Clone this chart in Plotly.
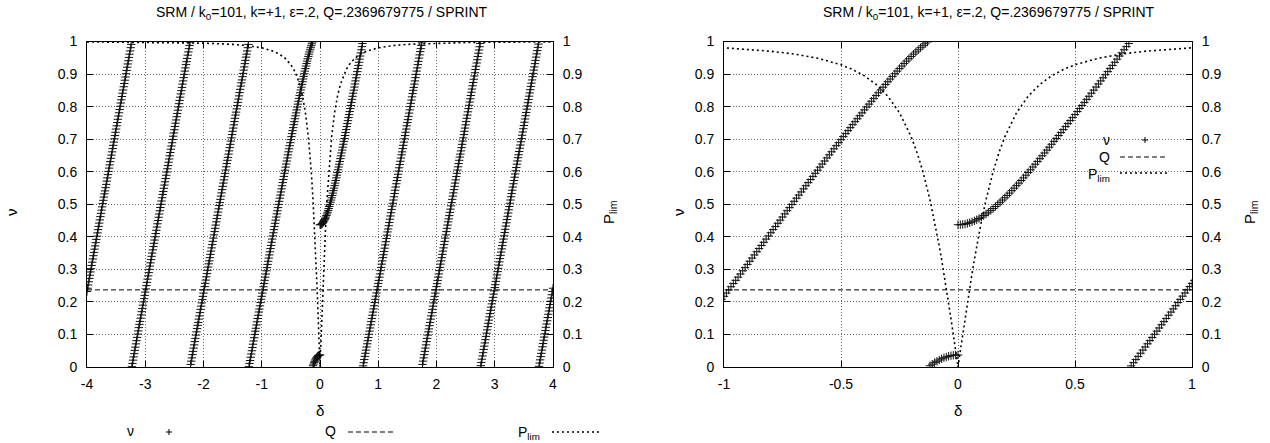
import plotly.graph_objects as go

# ---------------- data ----------------
Q_VALUE = 0.2369679775
TITLE = "SRM / k<sub>0</sub>=101, k=+1, ε=.2, Q=.2369679775 / SPRINT"

delta_wing_neg = [
    -4.0, -3.99, -3.98, -3.97, -3.96, -3.95, -3.94, -3.93, -3.92, -3.91,
    -3.9, -3.89, -3.88, -3.87, -3.86, -3.85, -3.84, -3.83, -3.82, -3.81,
    -3.8, -3.79, -3.78, -3.77, -3.76, -3.75, -3.74, -3.73, -3.72, -3.71,
    -3.7, -3.69, -3.68, -3.67, -3.66, -3.65, -3.64, -3.63, -3.62, -3.61,
    -3.6, -3.59, -3.58, -3.57, -3.56, -3.55, -3.54, -3.53, -3.52, -3.51,
    -3.5, -3.49, -3.48, -3.47, -3.46, -3.45, -3.44, -3.43, -3.42, -3.41,
    -3.4, -3.39, -3.38, -3.37, -3.36, -3.35, -3.34, -3.33, -3.32, -3.31,
    -3.3, -3.29, -3.28, -3.27, -3.26, -3.25, -3.24, -3.23, -3.22, -3.21,
    -3.2, -3.19, -3.18, -3.17, -3.16, -3.15, -3.14, -3.13, -3.12, -3.11,
    -3.1, -3.09, -3.08, -3.07, -3.06, -3.05, -3.04, -3.03, -3.02, -3.01,
    -3.0, -2.99, -2.98, -2.97, -2.96, -2.95, -2.94, -2.93, -2.92, -2.91,
    -2.9, -2.89, -2.88, -2.87, -2.86, -2.85, -2.84, -2.83, -2.82, -2.81,
    -2.8, -2.79, -2.78, -2.77, -2.76, -2.75, -2.74, -2.73, -2.72, -2.71,
    -2.7, -2.69, -2.68, -2.67, -2.66, -2.65, -2.64, -2.63, -2.62, -2.61,
    -2.6, -2.59, -2.58, -2.57, -2.56, -2.55, -2.54, -2.53, -2.52, -2.51,
    -2.5, -2.49, -2.48, -2.47, -2.46, -2.45, -2.44, -2.43, -2.42, -2.41,
    -2.4, -2.39, -2.38, -2.37, -2.36, -2.35, -2.34, -2.33, -2.32, -2.31,
    -2.3, -2.29, -2.28, -2.27, -2.26, -2.25, -2.24, -2.23, -2.22, -2.21,
    -2.2, -2.19, -2.18, -2.17, -2.16, -2.15, -2.14, -2.13, -2.12, -2.11,
    -2.1, -2.09, -2.08, -2.07, -2.06, -2.05, -2.04, -2.03, -2.02, -2.01,
    -2.0, -1.99, -1.98, -1.97, -1.96, -1.95, -1.94, -1.93, -1.92, -1.91,
    -1.9, -1.89, -1.88, -1.87, -1.86, -1.85, -1.84, -1.83, -1.82, -1.81,
    -1.8, -1.79, -1.78, -1.77, -1.76, -1.75, -1.74, -1.73, -1.72, -1.71,
    -1.7, -1.69, -1.68, -1.67, -1.66, -1.65, -1.64, -1.63, -1.62, -1.61,
    -1.6, -1.59, -1.58, -1.57, -1.56, -1.55, -1.54, -1.53, -1.52, -1.51,
    -1.5, -1.49, -1.48, -1.47, -1.46, -1.45, -1.44, -1.43, -1.42, -1.41,
    -1.4, -1.39, -1.38, -1.37, -1.36, -1.35, -1.34, -1.33, -1.32, -1.31,
    -1.3, -1.29, -1.28, -1.27, -1.26, -1.25, -1.24, -1.23, -1.22, -1.21,
    -1.2, -1.19, -1.18, -1.17, -1.16, -1.15, -1.14, -1.13, -1.12, -1.11,
    -1.1, -1.09, -1.08, -1.07, -1.06, -1.05, -1.04, -1.03, -1.02, -1.01,
]
nu_wing_neg = [
    .232, .242, .252, .262, .272, .282, .292, .302, .312, .322,
    .332, .342, .352, .362, .372, .382, .392, .402, .412, .422,
    .432, .442, .452, .462, .472, .482, .492, .502, .512, .522,
    .532, .541, .551, .561, .571, .581, .591, .601, .611, .621,
    .631, .641, .651, .661, .671, .681, .691, .701, .711, .721,
    .731, .741, .751, .761, .771, .781, .791, .801, .811, .821,
    .831, .841, .851, .861, .871, .881, .891, .901, .911, .921,
    .931, .941, .951, .961, .971, .981, .991, .001, .011, .021,
    .031, .041, .051, .061, .071, .081, .091, .101, .111, .121,
    .131, .140, .150, .160, .170, .180, .190, .200, .210, .220,
    .230, .240, .250, .260, .270, .280, .290, .300, .310, .320,
    .330, .340, .350, .360, .370, .380, .390, .400, .410, .420,
    .430, .440, .450, .460, .470, .480, .490, .500, .510, .520,
    .530, .539, .549, .559, .569, .579, .589, .599, .609, .619,
    .629, .639, .649, .659, .669, .679, .689, .699, .709, .719,
    .729, .739, .749, .759, .769, .779, .789, .799, .809, .819,
    .829, .839, .849, .859, .869, .879, .889, .899, .909, .919,
    .929, .938, .948, .958, .968, .978, .988, .998, .008, .018,
    .028, .038, .048, .058, .068, .078, .088, .098, .108, .118,
    .128, .137, .147, .157, .167, .177, .187, .197, .207, .217,
    .227, .237, .247, .257, .267, .277, .287, .297, .307, .317,
    .326, .336, .346, .356, .366, .376, .386, .396, .406, .416,
    .426, .436, .446, .456, .466, .476, .486, .496, .505, .515,
    .525, .535, .545, .555, .565, .575, .585, .595, .605, .615,
    .625, .635, .644, .654, .664, .674, .684, .694, .704, .714,
    .724, .734, .744, .754, .764, .774, .783, .793, .803, .813,
    .823, .833, .843, .853, .863, .873, .882, .892, .902, .912,
    .922, .932, .942, .952, .961, .971, .981, .991, .001, .011,
    .020, .030, .040, .050, .060, .070, .080, .090, .100, .110,
    .119, .129, .139, .149, .159, .169, .178, .188, .198, .208,
]

delta_center = [
    -1.0, -0.99, -0.98, -0.97, -0.96, -0.95, -0.94, -0.93, -0.92, -0.91,
    -0.9, -0.89, -0.88, -0.87, -0.86, -0.85, -0.84, -0.83, -0.82, -0.81,
    -0.8, -0.79, -0.78, -0.77, -0.76, -0.75, -0.74, -0.73, -0.72, -0.71,
    -0.7, -0.69, -0.68, -0.67, -0.66, -0.65, -0.64, -0.63, -0.62, -0.61,
    -0.6, -0.59, -0.58, -0.57, -0.56, -0.55, -0.54, -0.53, -0.52, -0.51,
    -0.5, -0.49, -0.48, -0.47, -0.46, -0.45, -0.44, -0.43, -0.42, -0.41,
    -0.4, -0.39, -0.38, -0.37, -0.36, -0.35, -0.34, -0.33, -0.32, -0.31,
    -0.3, -0.29, -0.28, -0.27, -0.26, -0.25, -0.24, -0.23, -0.22, -0.21,
    -0.2, -0.19, -0.18, -0.17, -0.16, -0.15, -0.14, -0.13, -0.12, -0.11,
    -0.1, -0.09, -0.08, -0.07, -0.06, -0.05, -0.04, -0.03, -0.02, -0.01,
    0.0, 0.0,
    0.01, 0.02, 0.03, 0.04, 0.05, 0.06, 0.07, 0.08, 0.09, 0.1,
    0.11, 0.12, 0.13, 0.14, 0.15, 0.16, 0.17, 0.18, 0.19, 0.2,
    0.21, 0.22, 0.23, 0.24, 0.25, 0.26, 0.27, 0.28, 0.29, 0.3,
    0.31, 0.32, 0.33, 0.34, 0.35, 0.36, 0.37, 0.38, 0.39, 0.4,
    0.41, 0.42, 0.43, 0.44, 0.45, 0.46, 0.47, 0.48, 0.49, 0.5,
    0.51, 0.52, 0.53, 0.54, 0.55, 0.56, 0.57, 0.58, 0.59, 0.6,
    0.61, 0.62, 0.63, 0.64, 0.65, 0.66, 0.67, 0.68, 0.69, 0.7,
    0.71, 0.72, 0.73, 0.74, 0.75, 0.76, 0.77, 0.78, 0.79, 0.8,
    0.81, 0.82, 0.83, 0.84, 0.85, 0.86, 0.87, 0.88, 0.89, 0.9,
    0.91, 0.92, 0.93, 0.94, 0.95, 0.96, 0.97, 0.98, 0.99, 1.0,
]
nu_center = [
    .2172, .2270, .2368, .2466, .2564, .2662, .2760, .2857, .2955, .3053,
    .3151, .3248, .3346, .3443, .3541, .3638, .3735, .3832, .3930, .4027,
    .4124, .4221, .4318, .4414, .4511, .4608, .4704, .4801, .4897, .4994,
    .5090, .5186, .5282, .5378, .5474, .5569, .5665, .5760, .5855, .5951,
    .6045, .6140, .6235, .6329, .6424, .6518, .6611, .6705, .6799, .6892,
    .6985, .7078, .7170, .7262, .7354, .7446, .7537, .7628, .7718, .7808,
    .7898, .7987, .8076, .8164, .8252, .8339, .8425, .8511, .8596, .8681,
    .8764, .8847, .8929, .9010, .9090, .9168, .9246, .9322, .9397, .9470,
    .9542, .9611, .9679, .9745, .9809, .9870, .9929, .9985, .0038, .0088,
    .0134, .0177, .0216, .0251, .0282, .0308, .0330, .0348, .0360, .0368,
    .0370, .4370,
    .4373, .4380, .4392, .4410, .4432, .4458, .4489, .4524, .4563, .4606,
    .4653, .4702, .4755, .4811, .4870, .4931, .4995, .5061, .5129, .5198,
    .5270, .5343, .5418, .5494, .5572, .5650, .5730, .5811, .5893, .5976,
    .6059, .6144, .6229, .6315, .6401, .6488, .6576, .6664, .6753, .6842,
    .6932, .7022, .7112, .7203, .7294, .7386, .7478, .7570, .7662, .7755,
    .7848, .7941, .8035, .8129, .8222, .8316, .8411, .8505, .8600, .8695,
    .8790, .8885, .8980, .9075, .9171, .9266, .9362, .9458, .9554, .9650,
    .9746, .9843, .9939, .0036, .0132, .0229, .0326, .0422, .0519, .0616,
    .0713, .0810, .0908, .1005, .1102, .1200, .1297, .1394, .1492, .1590,
    .1687, .1785, .1883, .1980, .2078, .2176, .2274, .2372, .2470, .2568,
]

delta_wing_pos = [
    1.01, 1.02, 1.03, 1.04, 1.05, 1.06, 1.07, 1.08, 1.09, 1.1,
    1.11, 1.12, 1.13, 1.14, 1.15, 1.16, 1.17, 1.18, 1.19, 1.2,
    1.21, 1.22, 1.23, 1.24, 1.25, 1.26, 1.27, 1.28, 1.29, 1.3,
    1.31, 1.32, 1.33, 1.34, 1.35, 1.36, 1.37, 1.38, 1.39, 1.4,
    1.41, 1.42, 1.43, 1.44, 1.45, 1.46, 1.47, 1.48, 1.49, 1.5,
    1.51, 1.52, 1.53, 1.54, 1.55, 1.56, 1.57, 1.58, 1.59, 1.6,
    1.61, 1.62, 1.63, 1.64, 1.65, 1.66, 1.67, 1.68, 1.69, 1.7,
    1.71, 1.72, 1.73, 1.74, 1.75, 1.76, 1.77, 1.78, 1.79, 1.8,
    1.81, 1.82, 1.83, 1.84, 1.85, 1.86, 1.87, 1.88, 1.89, 1.9,
    1.91, 1.92, 1.93, 1.94, 1.95, 1.96, 1.97, 1.98, 1.99, 2.0,
    2.01, 2.02, 2.03, 2.04, 2.05, 2.06, 2.07, 2.08, 2.09, 2.1,
    2.11, 2.12, 2.13, 2.14, 2.15, 2.16, 2.17, 2.18, 2.19, 2.2,
    2.21, 2.22, 2.23, 2.24, 2.25, 2.26, 2.27, 2.28, 2.29, 2.3,
    2.31, 2.32, 2.33, 2.34, 2.35, 2.36, 2.37, 2.38, 2.39, 2.4,
    2.41, 2.42, 2.43, 2.44, 2.45, 2.46, 2.47, 2.48, 2.49, 2.5,
    2.51, 2.52, 2.53, 2.54, 2.55, 2.56, 2.57, 2.58, 2.59, 2.6,
    2.61, 2.62, 2.63, 2.64, 2.65, 2.66, 2.67, 2.68, 2.69, 2.7,
    2.71, 2.72, 2.73, 2.74, 2.75, 2.76, 2.77, 2.78, 2.79, 2.8,
    2.81, 2.82, 2.83, 2.84, 2.85, 2.86, 2.87, 2.88, 2.89, 2.9,
    2.91, 2.92, 2.93, 2.94, 2.95, 2.96, 2.97, 2.98, 2.99, 3.0,
    3.01, 3.02, 3.03, 3.04, 3.05, 3.06, 3.07, 3.08, 3.09, 3.1,
    3.11, 3.12, 3.13, 3.14, 3.15, 3.16, 3.17, 3.18, 3.19, 3.2,
    3.21, 3.22, 3.23, 3.24, 3.25, 3.26, 3.27, 3.28, 3.29, 3.3,
    3.31, 3.32, 3.33, 3.34, 3.35, 3.36, 3.37, 3.38, 3.39, 3.4,
    3.41, 3.42, 3.43, 3.44, 3.45, 3.46, 3.47, 3.48, 3.49, 3.5,
    3.51, 3.52, 3.53, 3.54, 3.55, 3.56, 3.57, 3.58, 3.59, 3.6,
    3.61, 3.62, 3.63, 3.64, 3.65, 3.66, 3.67, 3.68, 3.69, 3.7,
    3.71, 3.72, 3.73, 3.74, 3.75, 3.76, 3.77, 3.78, 3.79, 3.8,
    3.81, 3.82, 3.83, 3.84, 3.85, 3.86, 3.87, 3.88, 3.89, 3.9,
    3.91, 3.92, 3.93, 3.94, 3.95, 3.96, 3.97, 3.98, 3.99, 4.0,
]
nu_wing_pos = [
    .266, .276, .286, .296, .306, .316, .326, .336, .345, .355,
    .365, .375, .385, .395, .405, .415, .424, .434, .444, .454,
    .464, .474, .484, .494, .503, .513, .523, .533, .543, .553,
    .563, .573, .582, .592, .602, .612, .622, .632, .642, .652,
    .661, .671, .681, .691, .701, .711, .721, .731, .741, .751,
    .760, .770, .780, .790, .800, .810, .820, .830, .840, .850,
    .859, .869, .879, .889, .899, .909, .919, .929, .939, .949,
    .959, .969, .978, .988, .998, .008, .018, .028, .038, .048,
    .058, .068, .078, .088, .098, .108, .117, .127, .137, .147,
    .157, .167, .177, .187, .197, .207, .217, .227, .237, .247,
    .256, .266, .276, .286, .296, .306, .316, .326, .336, .346,
    .356, .366, .376, .386, .396, .406, .416, .426, .436, .446,
    .455, .465, .475, .485, .495, .505, .515, .525, .535, .545,
    .555, .565, .575, .585, .595, .605, .615, .625, .635, .645,
    .654, .664, .674, .684, .694, .704, .714, .724, .734, .744,
    .754, .764, .774, .784, .794, .804, .814, .824, .834, .844,
    .854, .864, .874, .884, .894, .904, .914, .924, .934, .944,
    .954, .964, .974, .984, .994, .004, .014, .024, .034, .044,
    .054, .064, .074, .084, .094, .104, .114, .124, .134, .144,
    .154, .164, .174, .184, .194, .204, .214, .224, .234, .244,
    .253, .263, .273, .283, .293, .303, .313, .323, .333, .343,
    .353, .363, .373, .383, .393, .403, .413, .423, .433, .443,
    .453, .463, .473, .483, .493, .503, .513, .523, .533, .543,
    .553, .563, .573, .583, .593, .603, .613, .623, .633, .643,
    .652, .662, .672, .682, .692, .702, .712, .722, .732, .742,
    .752, .762, .772, .782, .792, .802, .812, .822, .832, .842,
    .852, .862, .872, .882, .892, .902, .912, .922, .932, .942,
    .952, .962, .972, .982, .992, .002, .012, .022, .032, .042,
    .052, .062, .072, .082, .092, .102, .112, .122, .132, .142,
    .152, .162, .172, .182, .192, .202, .212, .222, .232, .242,
]

delta_plim = [
    -4.0, -3.0, -2.5, -2.0, -1.5, -1.25, -1.0, -0.8, -0.7, -0.6, -0.5, -0.45, -0.4, -0.35, -0.3,
    -0.25, -0.2, -0.175, -0.15, -0.12, -0.1, -0.09, -0.08, -0.07, -0.06, -0.05, -0.04, -0.03, -0.02,
    -0.01, 0.0, 0.01, 0.02, 0.03, 0.04, 0.05, 0.06, 0.07, 0.08, 0.09, 0.1, 0.12, 0.15, 0.175, 0.2,
    0.25, 0.3, 0.35, 0.4, 0.45, 0.5, 0.6, 0.7, 0.8, 1.0, 1.25, 1.5, 2.0, 2.5, 3.0, 4.0,
]
plim = [
    .9988, .9978, .9968, .9950, .9912, .9874, .9806, .9701, .9615, .9487, .9285, .9138, .8944, .8682, .8321,
    .7809, .7071, .6585, .6000, .5145, .4472, .4104, .3714, .3304, .2873, .2425, .1961, .1483, .0995,
    .0499, .0000, .0499, .0995, .1483, .1961, .2425, .2873, .3304, .3714, .4104, .4472, .5145, .6000, .6585, .7071,
    .7809, .8321, .8682, .8944, .9138, .9285, .9487, .9615, .9701, .9806, .9874, .9912, .9950, .9968, .9978, .9988,
]

y_ticks = [0, 0.1, 0.2, 0.3, 0.4, 0.5, 0.6, 0.7, 0.8, 0.9, 1]
y_tick_text = ["0", "0.1", "0.2", "0.3", "0.4", "0.5", "0.6", "0.7", "0.8", "0.9", "1"]
x_ticks_left = [-4, -3, -2, -1, 0, 1, 2, 3, 4]
x_tick_text_left = ["-4", "-3", "-2", "-1", "0", "1", "2", "3", "4"]
x_ticks_right = [-1, -0.5, 0, 0.5, 1]
x_tick_text_right = ["-1", "-0.5", "0", "0.5", "1"]

delta_all = delta_wing_neg + delta_center + delta_wing_pos
nu_all = nu_wing_neg + nu_center + nu_wing_pos

# ---------------- layout geometry ----------------
W, H = 1270, 443
FONT = "Liberation Sans, Arial, sans-serif"
FS = 14


def px(x):
    return x / W


def py(y):
    return 1 - y / H


Y_DOM = [py(367), py(41.5)]
XL_DOM = [px(87), px(553)]
XR_DOM = [px(724), px(1192)]

GRID = dict(showgrid=True, gridcolor="rgba(0,0,0,0.6)", griddash="1px,2px", gridwidth=1)
TICKFONT = dict(family=FONT, size=FS, color="black")


def x_axis(domain, anchor, rng, vals, text):
    d = dict(domain=domain, anchor=anchor, range=rng, tickmode="array", tickvals=vals, ticktext=text,
             ticks="inside", ticklen=6, tickwidth=1, tickcolor="black", showline=True, linecolor="black",
             linewidth=1, mirror="ticks", zeroline=False, tickfont=TICKFONT, ticklabelstandoff=4,
             automargin=False)
    d.update(GRID)
    return d


def y_axis(domain, anchor, grid=True, side="left", overlaying=None):
    d = dict(domain=domain, anchor=anchor, range=[0, 1], tickmode="array", tickvals=y_ticks,
             ticktext=y_tick_text, ticks="inside", ticklen=6, tickwidth=1, tickcolor="black",
             showline=True, linecolor="black", linewidth=1, zeroline=False, tickfont=TICKFONT,
             side=side, ticklabelstandoff=6, automargin=False)
    if grid:
        d.update(GRID)
    else:
        d["showgrid"] = False
    if overlaying:
        d["overlaying"] = overlaying
    return d


fig = go.Figure()

MARK = dict(symbol="cross-thin", size=6, color="black", line=dict(width=1, color="#111"))
Q_LINE = dict(color="black", width=1, dash="5px,3px")
P_LINE = dict(color="black", width=1.6, dash="2px,3px")

for xa, ya, ya2 in (("x", "y", "y2"), ("x2", "y3", "y4")):
    fig.add_trace(go.Scatter(x=delta_all, y=nu_all, mode="markers", marker=MARK, name="ν",
                             xaxis=xa, yaxis=ya, showlegend=False))
    fig.add_trace(go.Scatter(x=[delta_all[0], delta_all[-1]], y=[Q_VALUE, Q_VALUE], mode="lines",
                             line=Q_LINE, name="Q", xaxis=xa, yaxis=ya, showlegend=False))
    fig.add_trace(go.Scatter(x=delta_plim, y=plim, mode="lines", line=P_LINE, name="P_lim",
                             xaxis=xa, yaxis=ya2, showlegend=False))

annotations = []
shapes = []


def text(x, y, s, size=FS, xanchor="center", angle=0):
    annotations.append(dict(x=px(x), y=py(y), xref="paper", yref="paper", text=s, showarrow=False,
                            xanchor=xanchor, yanchor="middle", textangle=angle,
                            font=dict(family=FONT, size=size, color="black")))


def sample(x0, x1, y, line):
    shapes.append(dict(type="line", xref="paper", yref="paper", x0=px(x0), x1=px(x1), y0=py(y), y1=py(y),
                       line=line))


def plus(x, y, r=3):
    pl = dict(color="black", width=1)
    shapes.append(dict(type="line", xref="paper", yref="paper", x0=px(x - r), x1=px(x + r), y0=py(y), y1=py(y), line=pl))
    shapes.append(dict(type="line", xref="paper", yref="paper", x0=px(x), x1=px(x), y0=py(y - r), y1=py(y + r), line=pl))


# titles
text(322, 13, TITLE)
text(989, 13, TITLE)
# axis titles
text(320, 410, "δ", size=15)
text(958, 410, "δ", size=15)
text(11, 212, "ν", size=15, angle=-90)
text(678, 212, "ν", size=15, angle=-90)
text(609, 212, "P<sub>lim</sub>", size=15, angle=-90)
text(1250, 212, "P<sub>lim</sub>", size=15, angle=-90)

# left legend (below the plot)
text(130, 431, "ν")
plus(169, 432)
text(338, 431, "Q", xanchor="right")
sample(348, 396, 432, Q_LINE)
text(542, 433, "P<sub>lim</sub>", xanchor="right")
sample(552, 599, 432, P_LINE)

# right legend (inside the plot)
text(1112, 140, "ν", xanchor="right")
plus(1145, 140)
text(1112, 157, "Q", xanchor="right")
sample(1120, 1168, 157, Q_LINE)
text(1112, 175, "P<sub>lim</sub>", xanchor="right")
sample(1120, 1168, 173, P_LINE)

fig.update_layout(
    width=W, height=H, autosize=False,
    margin=dict(l=0, r=0, t=0, b=0, pad=0, autoexpand=False),
    paper_bgcolor="white", plot_bgcolor="white",
    showlegend=False, hovermode=False,
    font=dict(family=FONT, size=FS, color="black"),
    xaxis=x_axis(XL_DOM, "y", [-4, 4], x_ticks_left, x_tick_text_left),
    yaxis=y_axis(Y_DOM, "x"),
    yaxis2=y_axis(Y_DOM, "x", grid=False, side="right", overlaying="y"),
    xaxis2=x_axis(XR_DOM, "y3", [-1, 1], x_ticks_right, x_tick_text_right),
    yaxis3=y_axis(Y_DOM, "x2"),
    yaxis4=y_axis(Y_DOM, "x2", grid=False, side="right", overlaying="y3"),
    annotations=annotations,
    shapes=shapes,
)

# the page's default 8px body margin would shift the fixed-size figure; remove it
fig.write_html("out.html",
               config={"displayModeBar": False, "staticPlot": True},
               post_script="document.body.style.margin='0';document.body.style.overflow='hidden';")
